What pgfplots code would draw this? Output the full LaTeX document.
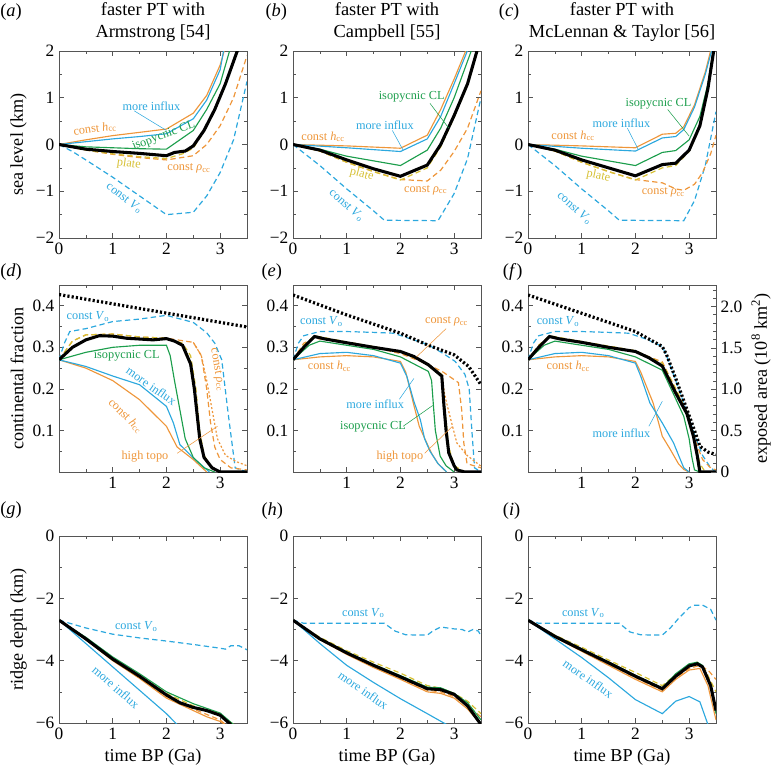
\documentclass[border=0pt]{standalone}
\usepackage{pgfplots}
\pgfplotsset{compat=1.18}
\usepackage{fontspec}
\setmainfont{Liberation Serif}
\definecolor{cor}{RGB}{238,150,58}
\definecolor{cbl}{RGB}{44,168,222}
\definecolor{cgr}{RGB}{28,158,76}
\definecolor{cye}{RGB}{214,192,52}
\definecolor{cax}{RGB}{85,85,85}
\newcommand{\tfont}{\fontsize{13}{15}\selectfont}
\newcommand{\lfont}{\fontsize{13.6}{16}\selectfont}
\tikzset{
  th/.style={line width=0.85pt},
  ds/.style={line width=0.9pt, dash pattern=on 4pt off 2.5pt},
  bk/.style={black, line width=2.3pt},
  dt/.style={black, line width=2.4pt, dash pattern=on 1.6pt off 1.6pt},
  od/.style={cor, line width=0.9pt, dash pattern=on 1.5pt off 1.5pt},
  ann/.style={font=\fontsize{9.2}{10}\selectfont, inner sep=1pt},
}
\pgfplotsset{
  base/.style={scale only axis, width=141pt, height=140.25pt, xmin=0, xmax=3.5,
    xtick={0,1,2,3}, xticklabels={0,1,2,3}, minor x tick num=1, tick align=inside,
    major tick length=3.5pt, minor tick length=2.2pt,
    axis line style={cax, line width=0.6pt}, tick style={cax, line width=0.5pt},
    ticklabel style={font=\tfont},
    label style={font=\lfont},
    clip=true, anchor=north west},
  r1/.style={base, ymin=-2, ymax=2, ytick={-2,-1,0,1,2}, yticklabels={−2,−1,0,1,2}, minor y tick num=1},
  r2/.style={base, ymin=0, ymax=0.45, ytick={0.1,0.2,0.3,0.4}, yticklabels={0.1,0.2,0.3,0.4}, minor ytick={0.05,0.15,0.25,0.35}, xticklabels={,1,2,3}},
  r3/.style={base, ymin=-6, ymax=0, ytick={-6,-4,-2,0}, yticklabels={−6,−4,−2,0}, minor y tick num=1},
}
\begin{document}
\begin{tikzpicture}
\useasboundingbox (0,0) rectangle (580.5pt,-583.5pt);
% titles and panel labels
\node[align=center, font=\fontsize{13.8}{16.5}\selectfont] at (114.75pt,-16.5pt) {faster PT with\\Armstrong [54]};
\node[align=center, font=\fontsize{13.8}{16.5}\selectfont] at (290.25pt,-16.5pt) {faster PT with\\Campbell [55]};
\node[align=center, font=\fontsize{13.8}{16.5}\selectfont] at (466.5pt,-16.5pt) {faster PT with\\McLennan \& Taylor [56]};
\begin{scope}[every node/.style={font=\fontsize{13.8}{16}\selectfont, anchor=west, inner sep=0pt}]
\node at (0pt,-9pt) {(\textit{a})};
\node at (199pt,-9pt) {(\textit{b})};
\node at (374pt,-9pt) {(\textit{c})};
\node at (0pt,-204pt) {(\textit{d})};
\node at (196pt,-204pt) {(\textit{e})};
\node at (377pt,-204pt) {(\textit{f})};
\node at (0pt,-382.5pt) {(\textit{g})};
\node at (196pt,-383pt) {(\textit{h})};
\node at (377pt,-383pt) {(\textit{i})};
\end{scope}

%%%%%%%%%%%%%%%% (a)
\begin{axis}[r1, at={(44.25pt,-38.25pt)}, ylabel={sea level (km)}]
\addplot[cbl, ds] coordinates {(0,0)(0.25,-0.15)(0.5,-0.33)(1,-0.7)(1.5,-1.1)(2,-1.5)(2.5,-1.45)(2.75,-1.1)(3,-0.6)(3.25,0.1)(3.5,1.35)};
\addplot[cor, ds] coordinates {(0,0)(0.5,-0.12)(1,-0.21)(1.5,-0.28)(2,-0.33)(2.5,-0.24)(2.75,0.0)(3,0.4)(3.25,1.0)(3.5,1.9)};
\addplot[cye, ds] coordinates {(0,0)(0.5,-0.12)(1,-0.2)(1.5,-0.26)(2,-0.3)(2.3,-0.2)(2.5,-0.08)(2.7,0.28)(2.9,0.73)(3.1,1.28)(3.35,2.1)};
\addplot[cor, th] coordinates {(0,0)(0.5,0.1)(1,0.19)(1.5,0.26)(2,0.33)(2.5,0.67)(2.75,1.05)(3,1.7)(3.1,2.1)};
\addplot[cbl, th] coordinates {(0,0)(0.5,0.06)(1,0.12)(1.5,0.17)(2,0.23)(2.5,0.55)(2.75,0.95)(3,1.6)(3.08,2.1)};
\addplot[cgr, th] coordinates {(0,0)(0.5,-0.05)(1,-0.07)(1.5,-0.09)(2,-0.1)(2.5,0.3)(2.75,0.75)(3,1.3)(3.2,2.1)};
\addplot[bk] coordinates {(0,0)(0.5,-0.1)(1,-0.15)(1.5,-0.19)(2,-0.24)(2.15,-0.17)(2.35,-0.14)(2.5,-0.03)(2.7,0.3)(2.9,0.75)(3.1,1.3)(3.35,2.1)};
\node[ann, cbl] at (axis cs:1.72,0.82) {more influx};
\draw[cbl, line width=0.4pt] (axis cs:1.4,0.72) -- (axis cs:2.0,0.3);
\node[ann, cor, rotate=8] at (axis cs:0.67,0.34) {const \textit{h}\textsubscript{cc}};
\node[ann, cgr, rotate=20] at (axis cs:1.95,0.18) {isopycnic CL};
\node[ann, cye, rotate=-8] at (axis cs:1.3,-0.42) {plate};
\node[ann, cor] at (axis cs:2.42,-0.52) {const \textit{ρ}\textsubscript{cc}};
\node[ann, cbl, rotate=-38] at (axis cs:1.22,-1.15) {const \textit{V}\textsubscript{o}};
\end{axis}

%%%%%%%%%%%%%%%% (b)
\begin{axis}[r1, at={(219.75pt,-38.25pt)}]
\addplot[cbl, ds] coordinates {(0,0)(0.5,-0.45)(1,-0.95)(1.5,-1.42)(1.7,-1.62)(2.7,-1.63)(3,-1.05)(3.25,-0.3)(3.5,1.0)};
\addplot[cor, ds] coordinates {(0,0)(0.5,-0.14)(1,-0.38)(1.5,-0.58)(2,-0.75)(2.5,-0.78)(2.75,-0.55)(3,-0.15)(3.25,0.35)(3.5,1.15)};
\addplot[cye, ds] coordinates {(0,0)(0.5,-0.14)(1,-0.38)(1.5,-0.58)(2,-0.76)(2.5,-0.5)(2.75,-0.05)(3,0.58)(3.25,1.27)(3.45,2.05)};
\addplot[cor, th] coordinates {(0,0)(1,-0.03)(2,-0.08)(2.5,0.2)(2.75,0.75)(3,1.4)(3.25,2.1)};
\addplot[cbl, th] coordinates {(0,0)(1,-0.07)(2,-0.15)(2.5,0.12)(2.75,0.6)(3,1.3)(3.28,2.1)};
\addplot[cgr, th] coordinates {(0,0)(0.5,-0.1)(1,-0.25)(2,-0.45)(2.5,-0.12)(2.75,0.35)(3,1.0)(3.35,2.1)};
\addplot[bk] coordinates {(0,0)(0.5,-0.12)(1,-0.33)(1.5,-0.52)(2,-0.68)(2.5,-0.44)(2.75,0.0)(3,0.62)(3.25,1.3)(3.45,2.1)};
\node[ann, cgr] at (axis cs:2.21,1.02) {isopycnic CL};
\draw[cgr, line width=0.4pt] (axis cs:2.55,0.88) -- (axis cs:2.9,0.35);
\node[ann, cbl] at (axis cs:1.71,0.41) {more influx};
\draw[cbl, line width=0.4pt] (axis cs:1.85,0.3) -- (axis cs:2.05,-0.12);
\node[ann, cor] at (axis cs:0.56,0.16) {const \textit{h}\textsubscript{cc}};
\node[ann, cye, rotate=-15] at (axis cs:1.28,-0.64) {plate};
\node[ann, cor] at (axis cs:2.47,-0.98) {const \textit{ρ}\textsubscript{cc}};
\node[ann, cbl, rotate=-42] at (axis cs:1.0,-1.3) {const \textit{V}\textsubscript{o}};
\end{axis}

%%%%%%%%%%%%%%%% (c)
\begin{axis}[r1, at={(396pt,-38.25pt)}]
\addplot[cbl, ds] coordinates {(0,0)(0.5,-0.45)(1,-0.95)(1.5,-1.42)(1.7,-1.62)(2.9,-1.63)(3.1,-1.2)(3.3,-0.45)(3.5,0.7)};
\addplot[cor, ds] coordinates {(0,0)(0.5,-0.14)(1,-0.38)(1.5,-0.58)(2,-0.75)(2.5,-0.82)(2.75,-0.95)(2.9,-0.98)(3.1,-0.85)(3.25,-0.6)(3.4,-0.2)(3.5,0.2)};
\addplot[cye, ds] coordinates {(0,0)(0.5,-0.14)(1,-0.38)(1.5,-0.58)(2,-0.76)(2.5,-0.5)(2.75,-0.45)(3,-0.15)(3.2,0.38)(3.35,1.18)(3.47,2.05)};
\addplot[cor, th] coordinates {(0,0)(1,-0.03)(2,-0.07)(2.5,0.22)(2.75,0.24)(2.9,0.38)(3.1,0.85)(3.3,1.55)(3.42,2.1)};
\addplot[cbl, th] coordinates {(0,0)(1,-0.08)(2,-0.14)(2.5,0.14)(2.75,0.17)(2.9,0.32)(3.1,0.8)(3.3,1.5)(3.44,2.1)};
\addplot[cgr, th] coordinates {(0,0)(0.5,-0.1)(1,-0.25)(2,-0.45)(2.5,-0.17)(2.75,-0.13)(3,0.1)(3.2,0.6)(3.35,1.3)(3.46,2.1)};
\addplot[bk] coordinates {(0,0)(0.5,-0.12)(1,-0.33)(1.5,-0.5)(2,-0.67)(2.5,-0.43)(2.75,-0.4)(3,-0.12)(3.2,0.4)(3.35,1.2)(3.47,2.1)};
\node[ann, cgr] at (axis cs:2.43,0.88) {isopycnic CL};
\draw[cgr, line width=0.4pt] (axis cs:2.6,0.75) -- (axis cs:3.0,0.18);
\node[ann, cbl] at (axis cs:1.74,0.46) {more influx};
\draw[cbl, line width=0.4pt] (axis cs:1.85,0.35) -- (axis cs:2.05,-0.1);
\node[ann, cor] at (axis cs:0.84,0.18) {const \textit{h}\textsubscript{cc}};
\node[ann, cye, rotate=-12] at (axis cs:1.31,-0.68) {plate};
\node[ann, cor] at (axis cs:2.52,-1.03) {const \textit{ρ}\textsubscript{cc}};
\node[ann, cbl, rotate=-42] at (axis cs:0.87,-1.36) {const \textit{V}\textsubscript{o}};
\end{axis}

%%%%%%%%%%%%%%%% (d)
\begin{axis}[r2, at={(44.25pt,-213.75pt)}, ylabel={continental fraction}]
\addplot[cbl, ds] coordinates {(0,0.27)(0.1,0.31)(0.2,0.338)(0.5,0.345)(1,0.362)(1.5,0.368)(2,0.377)(2.5,0.36)(2.75,0.335)(2.9,0.31)(3.03,0.27)(3.15,0.14)(3.28,0.01)(3.5,0.0)};
\addplot[od] coordinates {(2.5,0.312)(2.65,0.28)(2.75,0.22)(2.85,0.15)(2.95,0.08)(3.1,0.04)(3.3,0.025)(3.5,0.015)};
\addplot[cor, ds] coordinates {(0,0.27)(0.25,0.315)(0.5,0.33)(1,0.332)(1.5,0.325)(2,0.322)(2.5,0.312)(2.65,0.28)(2.75,0.2)(2.82,0.12)(2.9,0.06)(3.0,0.03)(3.2,0.01)(3.5,0.005)};
\addplot[cye, ds] coordinates {(0,0.27)(0.25,0.315)(0.5,0.33)(1,0.332)(1.5,0.325)(2,0.322)(2.3,0.31)(2.45,0.28)(2.55,0.2)(2.62,0.1)(2.7,0.04)(2.85,0.01)(3.0,0.0)};
\addplot[cor, th] coordinates {(0,0.27)(0.5,0.25)(1,0.22)(1.5,0.174)(2,0.11)(2.2,0.06)(2.5,0.03)(2.75,0.0)};
\addplot[cbl, th] coordinates {(0,0.27)(0.5,0.254)(1,0.231)(1.5,0.21)(2,0.158)(2.13,0.118)(2.25,0.066)(2.5,0.034)(2.8,0.0)};
\addplot[cgr, th] coordinates {(0,0.27)(0.5,0.288)(1,0.3)(1.5,0.305)(2,0.305)(2.07,0.28)(2.15,0.22)(2.25,0.15)(2.35,0.08)(2.5,0.035)(2.7,0.01)(2.9,0.0)};
\addplot[bk] coordinates {(0,0.27)(0.25,0.3)(0.5,0.318)(0.75,0.328)(1,0.327)(1.25,0.322)(1.5,0.32)(1.75,0.318)(2,0.321)(2.15,0.315)(2.3,0.305)(2.45,0.26)(2.52,0.2)(2.57,0.14)(2.62,0.08)(2.7,0.035)(2.85,0.01)(3.0,0.0)(3.5,0.0)};
\addplot[dt] coordinates {(0,0.427)(3.5,0.349)};
\node[font=\tfont] at ([xshift=-8.25pt,yshift=-8.25pt]rel axis cs:0,0) {0};
\node[ann, cbl] at (axis cs:0.54,0.374) {const \textit{V}\textsubscript{o}};
\node[ann, cgr] at (axis cs:1.26,0.279) {isopycnic CL};
\node[ann, cbl, rotate=-35] at (axis cs:1.72,0.207) {more influx};
\node[ann, cor, rotate=-45] at (axis cs:1.24,0.135) {const \textit{h}\textsubscript{cc}};
\node[ann, cor, rotate=-80] at (axis cs:2.94,0.246) {const \textit{ρ}\textsubscript{cc}};
\node[ann, cor] at (axis cs:1.6,0.038) {high topo};
\draw[cor, line width=0.4pt] (axis cs:2.2,0.045) -- (axis cs:2.95,0.11);
\end{axis}

%%%%%%%%%%%%%%%% (e)
\begin{axis}[r2, at={(219.75pt,-213.75pt)}]
\addplot[cbl, ds] coordinates {(0,0.27)(0.1,0.31)(0.2,0.328)(0.5,0.338)(1,0.338)(1.5,0.336)(1.87,0.334)(2.2,0.32)(2.52,0.306)(2.8,0.285)(3.02,0.266)(3.2,0.235)(3.28,0.2)(3.33,0.1)(3.38,0.01)(3.5,0.0)};
\addplot[od] coordinates {(2.77,0.231)(2.82,0.19)(2.86,0.166)(2.95,0.12)(3.05,0.07)(3.24,0.04)(3.5,0.014)};
\addplot[cor, ds] coordinates {(0,0.27)(0.2,0.31)(0.4,0.322)(1,0.312)(1.5,0.3)(2,0.285)(2.5,0.26)(2.8,0.24)(3.08,0.215)(3.14,0.15)(3.18,0.07)(3.24,0.02)(3.5,0.01)};
\addplot[cye, ds] coordinates {(0,0.27)(0.2,0.305)(0.4,0.328)(1,0.313)(1.5,0.302)(2,0.29)(2.5,0.26)(2.77,0.235)(2.83,0.15)(2.9,0.06)(3,0.015)(3.2,0.0)};
\addplot[cor, th] coordinates {(0,0.27)(0.5,0.277)(1,0.28)(1.5,0.277)(2,0.266)(2.1,0.24)(2.24,0.166)(2.35,0.11)(2.49,0.07)(2.58,0.045)(2.7,0.02)(2.86,0.0)};
\addplot[cbl, th] coordinates {(0,0.27)(0.5,0.285)(1,0.288)(1.5,0.28)(2,0.262)(2.12,0.23)(2.25,0.17)(2.37,0.126)(2.45,0.08)(2.55,0.05)(2.7,0.02)(2.86,0.0)};
\addplot[cgr, th] coordinates {(0,0.27)(0.3,0.305)(0.5,0.315)(1,0.305)(1.5,0.295)(2,0.277)(2.52,0.242)(2.58,0.22)(2.62,0.15)(2.65,0.1)(2.74,0.038)(2.85,0.015)(3.0,0.0)};
\addplot[bk] coordinates {(0,0.27)(0.2,0.3)(0.4,0.326)(0.6,0.32)(1,0.311)(1.5,0.3)(2,0.29)(2.25,0.278)(2.52,0.258)(2.77,0.231)(2.81,0.16)(2.85,0.1)(2.9,0.046)(3.0,0.015)(3.05,0.005)(3.2,0.0)(3.5,0.0)};
\addplot[dt] coordinates {(0,0.426)(0.5,0.402)(1,0.378)(1.5,0.356)(2,0.334)(2.5,0.306)(3,0.282)(3.27,0.254)(3.5,0.21)};
\node[font=\tfont] at ([xshift=-8.25pt,yshift=-8.25pt]rel axis cs:0,0) {0};
\node[ann, cbl] at (axis cs:0.53,0.362) {const \textit{V}\textsubscript{o}};
\node[ann, cor] at (axis cs:2.86,0.362) {const \textit{ρ}\textsubscript{cc}};
\draw[cor, line width=0.4pt] (axis cs:2.85,0.345) -- (axis cs:2.3,0.277);
\node[ann, cor] at (axis cs:0.68,0.254) {const \textit{h}\textsubscript{cc}};
\node[ann, cbl] at (axis cs:1.53,0.162) {more influx};
\draw[cbl, line width=0.4pt] (axis cs:1.98,0.175) -- (axis cs:2.25,0.225);
\node[ann, cgr] at (axis cs:1.49,0.11) {isopycnic CL};
\draw[cgr, line width=0.4pt] (axis cs:2.05,0.11) -- (axis cs:2.6,0.16);
\node[ann, cor] at (axis cs:1.99,0.038) {high topo};
\draw[cor, line width=0.4pt] (axis cs:2.45,0.045) -- (axis cs:2.97,0.11);
\end{axis}

%%%%%%%%%%%%%%%% (f)
\begin{axis}[r2, at={(396pt,-213.75pt)}, ytick pos=left]
\addplot[cbl, ds] coordinates {(0,0.27)(0.1,0.31)(0.2,0.328)(0.5,0.338)(1,0.338)(1.5,0.336)(1.87,0.334)(2.2,0.32)(2.5,0.302)(2.58,0.28)(2.75,0.22)(2.96,0.145)(3.1,0.09)(3.25,0.04)(3.4,0.01)(3.5,0.0)};
\addplot[cor, ds] coordinates {(0,0.27)(0.2,0.305)(0.4,0.326)(1,0.313)(1.5,0.302)(2,0.29)(2.5,0.265)(2.75,0.2)(2.96,0.14)(3.1,0.08)(3.25,0.03)(3.4,0.01)(3.5,0.005)};
\addplot[cye, ds] coordinates {(0,0.27)(0.2,0.305)(0.4,0.328)(1,0.314)(1.5,0.303)(2,0.292)(2.5,0.262)(2.75,0.2)(2.96,0.145)(3.1,0.08)(3.2,0.02)(3.3,0.0)};
\addplot[cor, th] coordinates {(0,0.27)(0.5,0.277)(1,0.28)(1.5,0.277)(2,0.266)(2.1,0.24)(2.33,0.166)(2.5,0.086)(2.65,0.054)(2.8,0.02)(2.9,0.006)(3.0,0.0)};
\addplot[cbl, th] coordinates {(0,0.27)(0.5,0.285)(1,0.288)(1.5,0.28)(2,0.262)(2.1,0.23)(2.27,0.166)(2.5,0.118)(2.71,0.07)(2.82,0.035)(2.9,0.01)(3.0,0.0)};
\addplot[cgr, th] coordinates {(0,0.27)(0.3,0.305)(0.5,0.315)(1,0.305)(1.5,0.295)(2,0.277)(2.5,0.245)(2.7,0.19)(2.9,0.134)(3.0,0.08)(3.05,0.036)(3.1,0.005)(3.2,0.0)};
\addplot[bk] coordinates {(0,0.27)(0.2,0.3)(0.4,0.326)(0.6,0.32)(1,0.312)(1.5,0.3)(2,0.29)(2.25,0.275)(2.5,0.255)(2.75,0.19)(2.96,0.14)(3.08,0.086)(3.15,0.04)(3.2,0.0)(3.5,0.0)};
\addplot[dt] coordinates {(0,0.426)(0.5,0.404)(1,0.382)(1.5,0.36)(2,0.338)(2.5,0.302)(2.58,0.282)(2.75,0.225)(2.96,0.15)(3.1,0.1)(3.2,0.062)(3.35,0.048)(3.5,0.042)};
\node[font=\tfont] at ([xshift=-8.25pt,yshift=-8.25pt]rel axis cs:0,0) {0};
\node[ann, cbl] at (axis cs:0.56,0.362) {const \textit{V}\textsubscript{o}};
\node[ann, cor] at (axis cs:0.75,0.254) {const \textit{h}\textsubscript{cc}};
\node[ann, cbl] at (axis cs:1.74,0.094) {more influx};
\draw[cbl, line width=0.4pt] (axis cs:2.25,0.11) -- (axis cs:2.5,0.17);
\end{axis}
\begin{axis}[base, at={(396pt,-213.75pt)}, ymin=0, ymax=2.26, axis x line=none, axis y line*=right,
  ytick={0,0.5,1,1.5,2}, yticklabels={0,0.5,1.0,1.5,2.0}, minor ytick={0.1,0.2,0.3,0.4,0.6,0.7,0.8,0.9,1.1,1.2,1.3,1.4,1.6,1.7,1.8,1.9,2.1,2.2},
  ylabel={exposed area (10\textsuperscript{8} km\textsuperscript{2})}]
\addplot[draw=none] coordinates {(0,0)(3.5,2.26)};
\end{axis}

%%%%%%%%%%%%%%%% (g)
\begin{axis}[r3, at={(44.25pt,-402pt)}, ylabel={ridge depth (km)}, xlabel={time BP (Ga)}]
\addplot[cbl, ds] coordinates {(0,-2.7)(0.5,-2.95)(1,-3.15)(1.5,-3.27)(2,-3.37)(2.5,-3.48)(3,-3.6)(3.1,-3.63)(3.2,-3.52)(3.35,-3.52)(3.5,-3.65)};
\addplot[cor, ds] coordinates {(0,-2.7)(0.5,-3.32)(1,-3.98)(1.5,-4.55)(2,-5.15)(2.5,-5.55)(3,-5.9)(3.1,-6.05)};
\addplot[cye, ds] coordinates {(0,-2.7)(0.5,-3.28)(1,-3.92)(1.5,-4.48)(2,-5.05)(2.5,-5.45)(3,-5.72)(3.25,-6.05)};
\addplot[cor, th] coordinates {(0,-2.7)(0.5,-3.33)(1,-4.0)(1.5,-4.57)(2,-5.2)(2.5,-5.6)(2.75,-5.8)(3,-5.95)(3.1,-6.05)};
\addplot[cbl, th] coordinates {(0,-2.7)(0.5,-3.45)(1,-4.2)(1.5,-4.95)(2,-5.7)(2.2,-6.05)};
\addplot[cgr, th] coordinates {(0,-2.7)(0.5,-3.25)(1,-3.88)(1.5,-4.42)(2,-5.0)(2.5,-5.38)(3,-5.68)(3.25,-6.05)};
\addplot[bk] coordinates {(0,-2.7)(0.5,-3.3)(1,-3.95)(1.5,-4.5)(2,-5.1)(2.25,-5.35)(2.5,-5.5)(2.75,-5.6)(3,-5.75)(3.2,-6.05)};
\node[ann, cbl] at (axis cs:1.44,-2.9) {const \textit{V}\textsubscript{o}};
\node[ann, cbl, rotate=-41] at (axis cs:1.06,-4.85) {more influx};
\end{axis}

%%%%%%%%%%%%%%%% (h)
\begin{axis}[r3, at={(219.75pt,-402pt)}, xlabel={time BP (Ga)}]
\addplot[cbl, ds] coordinates {(0,-2.7)(0.2,-2.8)(1.7,-2.8)(1.9,-3.05)(2.1,-3.17)(2.5,-3.18)(2.6,-3.05)(2.75,-2.92)(3,-2.98)(3.15,-3.0)(3.25,-3.08)(3.35,-3.0)(3.45,-3.05)(3.5,-3.2)};
\addplot[cor, ds] coordinates {(0,-2.7)(0.5,-3.3)(1,-3.78)(1.5,-4.2)(2,-4.57)(2.5,-4.95)(2.75,-5.0)(3,-5.15)(3.25,-5.45)(3.5,-5.8)};
\addplot[cye, ds] coordinates {(0,-2.7)(0.5,-3.25)(1,-3.68)(1.5,-4.05)(2,-4.4)(2.5,-4.8)(2.75,-4.88)(3,-5.05)(3.25,-5.3)(3.5,-5.7)};
\addplot[cor, th] coordinates {(0,-2.7)(0.5,-3.32)(1,-3.8)(1.5,-4.22)(2,-4.6)(2.5,-5.0)(2.75,-5.05)(3,-5.2)(3.25,-5.55)(3.5,-6.05)};
\addplot[cbl, th] coordinates {(0,-2.7)(0.5,-3.45)(1,-4.15)(1.5,-4.7)(2,-5.22)(2.5,-5.7)(2.86,-6.05)};
\addplot[cgr, th] coordinates {(0,-2.7)(0.5,-3.28)(1,-3.72)(1.5,-4.12)(2,-4.48)(2.5,-4.85)(2.75,-4.87)(3,-5.05)(3.25,-5.35)(3.5,-5.9)};
\addplot[bk] coordinates {(0,-2.7)(0.5,-3.3)(1,-3.75)(1.5,-4.15)(2,-4.52)(2.5,-4.9)(2.75,-4.93)(3,-5.08)(3.25,-5.45)(3.5,-6.05)};
\node[ann, cbl] at (axis cs:1.31,-2.47) {const \textit{V}\textsubscript{o}};
\node[ann, cbl, rotate=-35] at (axis cs:1.31,-4.95) {more influx};
\end{axis}

%%%%%%%%%%%%%%%% (i)
\begin{axis}[r3, at={(396pt,-402pt)}, xlabel={time BP (Ga)}]
\addplot[cbl, ds] coordinates {(0,-2.7)(0.2,-2.8)(1.7,-2.8)(1.9,-3.08)(2.1,-3.17)(2.5,-3.18)(2.65,-2.95)(2.8,-2.65)(3,-2.3)(3.1,-2.22)(3.25,-2.22)(3.4,-2.35)(3.5,-2.7)};
\addplot[cor, ds] coordinates {(0,-2.7)(0.5,-3.24)(1,-3.68)(1.5,-4.1)(2,-4.55)(2.5,-4.95)(2.75,-4.55)(3,-4.25)(3.2,-4.15)(3.35,-4.3)(3.5,-4.6)};
\addplot[cye, ds] coordinates {(0,-2.7)(0.5,-3.18)(1,-3.57)(1.5,-3.98)(2,-4.38)(2.5,-4.8)(2.75,-4.45)(3,-4.12)(3.15,-4.05)(3.3,-4.3)(3.5,-5.0)};
\addplot[cor, th] coordinates {(0,-2.7)(0.5,-3.25)(1,-3.7)(1.5,-4.15)(2,-4.6)(2.5,-5.0)(2.75,-4.6)(3,-4.3)(3.2,-4.25)(3.35,-4.8)(3.5,-5.9)};
\addplot[cbl, th] coordinates {(0,-2.7)(0.5,-3.3)(1,-3.9)(1.5,-4.55)(2,-5.25)(2.5,-5.7)(2.75,-5.3)(3,-5.15)(3.2,-5.32)(3.35,-6.05)};
\addplot[cgr, th] coordinates {(0,-2.7)(0.5,-3.2)(1,-3.62)(1.5,-4.04)(2,-4.47)(2.5,-4.87)(2.75,-4.42)(3,-4.1)(3.15,-4.05)(3.25,-4.15)(3.4,-4.8)(3.5,-5.7)};
\addplot[bk] coordinates {(0,-2.7)(0.5,-3.22)(1,-3.65)(1.5,-4.07)(2,-4.5)(2.5,-4.9)(2.75,-4.5)(3,-4.17)(3.15,-4.1)(3.25,-4.2)(3.4,-4.8)(3.5,-5.6)};
\node[ann, cbl] at (axis cs:1.03,-2.47) {const \textit{V}\textsubscript{o}};
\node[ann, cbl, rotate=-35] at (axis cs:1.12,-4.58) {more influx};
\end{axis}
\end{tikzpicture}
\end{document}
